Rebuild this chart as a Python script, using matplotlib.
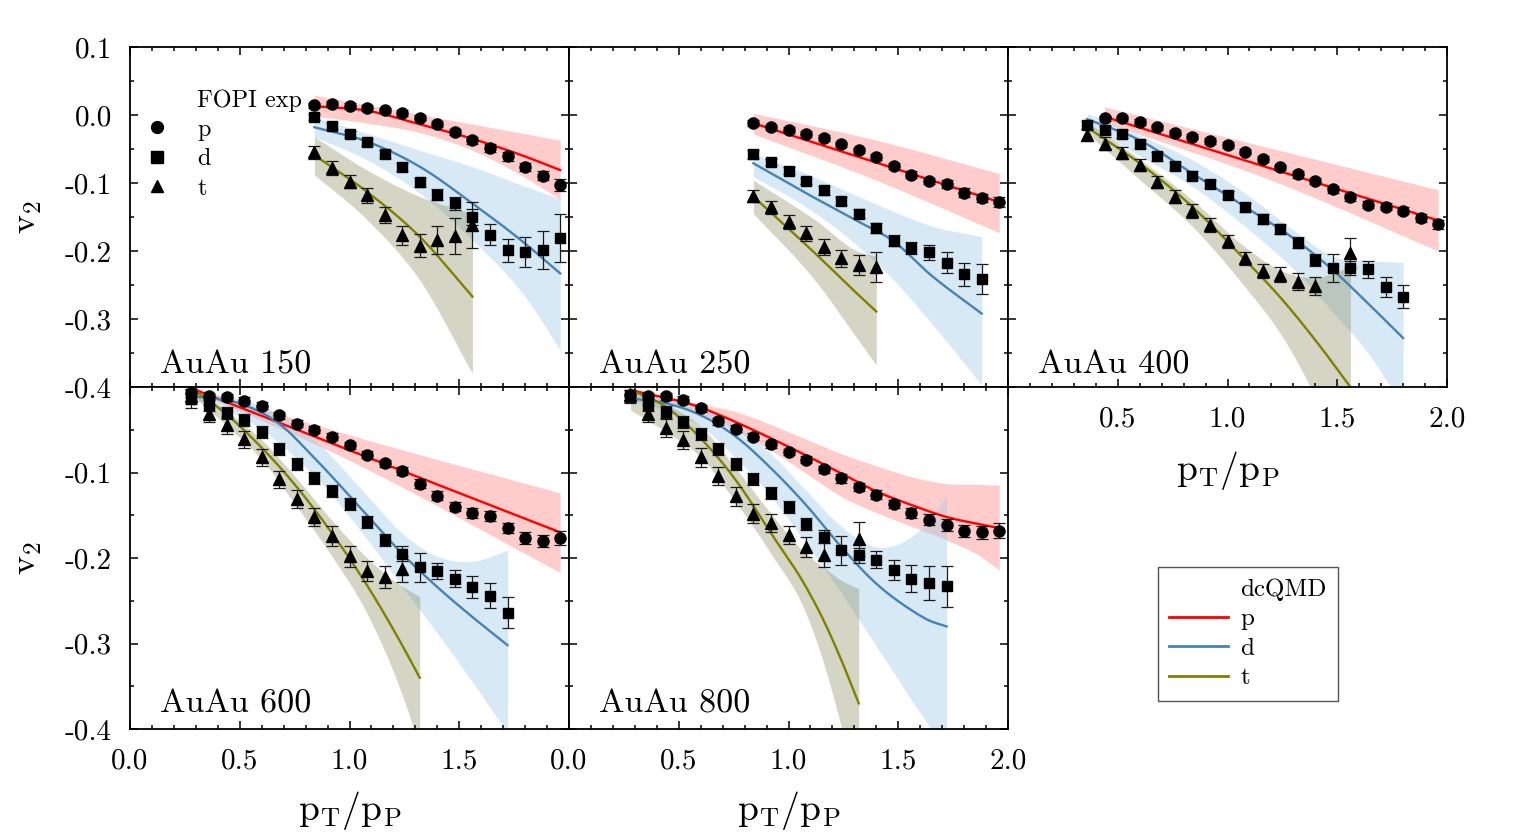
import numpy as np
import matplotlib.pyplot as plt
from matplotlib.lines import Line2D
from matplotlib.ticker import MultipleLocator

plt.rcParams['font.family'] = 'cmr10'
plt.rcParams['mathtext.fontset'] = 'cm'
plt.rcParams['axes.unicode_minus'] = False
plt.rcParams['axes.formatter.use_mathtext'] = True

# ---------------- FOPI data (pT/pP, v2, error) ----------------
x_a = [0.84, 0.92, 1.00, 1.08, 1.16, 1.24, 1.32, 1.40, 1.48, 1.56, 1.64, 1.72, 1.80, 1.88, 1.96]
x_b = [0.36, 0.44, 0.52, 0.60, 0.68, 0.76, 0.84, 0.92, 1.00, 1.08, 1.16, 1.24, 1.32, 1.40,
       1.48, 1.56, 1.64, 1.72, 1.80, 1.88, 1.96]
x_c = [0.28, 0.36, 0.44, 0.52, 0.60, 0.68, 0.76, 0.84, 0.92, 1.00, 1.08, 1.16, 1.24, 1.32,
       1.40, 1.48, 1.56, 1.64, 1.72, 1.80, 1.88, 1.96]

# AuAu 150
p150 = [0.014, 0.016, 0.013, 0.010, 0.007, 0.003, -0.004, -0.013, -0.025, -0.037, -0.049, -0.061, -0.076, -0.089, -0.103]
p150e = [0.004, 0.004, 0.004, 0.004, 0.004, 0.004, 0.004, 0.004, 0.005, 0.005, 0.006, 0.006, 0.006, 0.007, 0.009]
d150 = [-0.003, -0.016, -0.028, -0.040, -0.057, -0.077, -0.099, -0.117, -0.130, -0.150, -0.176, -0.199, -0.202, -0.198, -0.181]
d150e = [0.004, 0.004, 0.005, 0.005, 0.006, 0.006, 0.007, 0.008, 0.009, 0.012, 0.015, 0.017, 0.022, 0.028, 0.035]
t150 = [-0.055, -0.078, -0.098, -0.118, -0.147, -0.177, -0.192, -0.184, -0.178, -0.162]
t150e = [0.009, 0.010, 0.010, 0.011, 0.012, 0.014, 0.017, 0.021, 0.026, 0.034]

# AuAu 250
p250 = [-0.012, -0.018, -0.022, -0.028, -0.034, -0.043, -0.052, -0.062, -0.075, -0.088, -0.097, -0.102, -0.114, -0.122, -0.128]
p250e = [0.004, 0.004, 0.004, 0.004, 0.004, 0.004, 0.004, 0.004, 0.005, 0.005, 0.005, 0.006, 0.006, 0.006, 0.007]
d250 = [-0.058, -0.069, -0.082, -0.097, -0.111, -0.126, -0.145, -0.166, -0.185, -0.196, -0.202, -0.217, -0.234, -0.241]
d250e = [0.006, 0.005, 0.005, 0.005, 0.006, 0.006, 0.007, 0.007, 0.008, 0.009, 0.011, 0.015, 0.017, 0.022]
t250 = [-0.119, -0.136, -0.157, -0.174, -0.194, -0.211, -0.221, -0.224]
t250e = [0.009, 0.010, 0.010, 0.011, 0.012, 0.013, 0.015, 0.022]

# AuAu 400
p400 = [-0.005, -0.005, -0.010, -0.018, -0.026, -0.032, -0.038, -0.044, -0.054, -0.065, -0.077, -0.087, -0.097,
        -0.109, -0.121, -0.132, -0.135, -0.141, -0.151, -0.161]
p400e = [0.004, 0.004, 0.004, 0.004, 0.004, 0.004, 0.004, 0.004, 0.004, 0.004, 0.004, 0.005, 0.005, 0.005,
         0.005, 0.005, 0.005, 0.005, 0.006, 0.006]
d400 = [-0.015, -0.022, -0.028, -0.043, -0.061, -0.075, -0.089, -0.102, -0.118, -0.136, -0.153, -0.168, -0.188,
        -0.213, -0.225, -0.225, -0.227, -0.253, -0.267]
d400e = [0.006, 0.006, 0.006, 0.006, 0.006, 0.006, 0.006, 0.006, 0.006, 0.006, 0.007, 0.007, 0.008, 0.009,
         0.020, 0.011, 0.012, 0.015, 0.017]
x_t400 = [0.36, 0.44, 0.52, 0.60, 0.68, 0.76, 0.84, 0.92, 1.00, 1.08, 1.16, 1.24, 1.32, 1.40, 1.56]
t400 = [-0.029, -0.042, -0.056, -0.074, -0.098, -0.120, -0.141, -0.162, -0.186, -0.211, -0.229, -0.235, -0.245,
        -0.251, -0.203]
t400e = [0.008, 0.009, 0.009, 0.009, 0.009, 0.009, 0.010, 0.010, 0.010, 0.010, 0.010, 0.011, 0.012, 0.013, 0.022]

# AuAu 600
p600 = [-0.007, -0.011, -0.012, -0.016, -0.022, -0.033, -0.043, -0.050, -0.058, -0.068, -0.079, -0.089, -0.098,
        -0.113, -0.127, -0.140, -0.147, -0.151, -0.165, -0.177, -0.180, -0.177]
p600e = [0.005, 0.004, 0.004, 0.004, 0.004, 0.004, 0.004, 0.004, 0.004, 0.004, 0.004, 0.004, 0.005, 0.005,
         0.005, 0.005, 0.006, 0.006, 0.006, 0.007, 0.007, 0.008]
d600 = [-0.014, -0.021, -0.030, -0.039, -0.053, -0.072, -0.090, -0.106, -0.122, -0.137, -0.158, -0.179, -0.195,
        -0.211, -0.215, -0.224, -0.234, -0.244, -0.264]
d600e = [0.011, 0.007, 0.007, 0.007, 0.007, 0.007, 0.007, 0.007, 0.007, 0.007, 0.007, 0.007, 0.009, 0.017,
         0.009, 0.010, 0.013, 0.015, 0.018]
t600 = [-0.011, -0.031, -0.045, -0.061, -0.082, -0.108, -0.131, -0.152, -0.174, -0.198, -0.215, -0.222, -0.213]
t600e = [0.009, 0.010, 0.010, 0.010, 0.010, 0.010, 0.011, 0.011, 0.012, 0.012, 0.012, 0.013, 0.015]

# AuAu 800
p800 = [-0.009, -0.011, -0.011, -0.015, -0.025, -0.040, -0.049, -0.058, -0.067, -0.076, -0.085, -0.096, -0.107,
        -0.117, -0.126, -0.137, -0.147, -0.155, -0.161, -0.168, -0.170, -0.168]
p800e = [0.006, 0.004, 0.004, 0.004, 0.004, 0.004, 0.004, 0.004, 0.004, 0.004, 0.004, 0.004, 0.005, 0.005,
         0.005, 0.005, 0.006, 0.006, 0.007, 0.007, 0.008, 0.009]
d800 = [-0.011, -0.021, -0.029, -0.041, -0.055, -0.072, -0.090, -0.108, -0.124, -0.140, -0.160, -0.175, -0.191,
        -0.197, -0.202, -0.214, -0.224, -0.229, -0.233]
d800e = [0.008, 0.007, 0.007, 0.007, 0.007, 0.007, 0.007, 0.007, 0.007, 0.007, 0.007, 0.008, 0.017, 0.009,
         0.010, 0.012, 0.016, 0.020, 0.024]
x_t800 = [0.28, 0.36, 0.44, 0.52, 0.60, 0.68, 0.76, 0.84, 0.92, 1.00, 1.08, 1.16, 1.32]
t800 = [-0.009, -0.031, -0.048, -0.062, -0.082, -0.104, -0.128, -0.148, -0.159, -0.173, -0.187, -0.197, -0.178]
t800e = [0.009, 0.010, 0.010, 0.011, 0.011, 0.011, 0.011, 0.011, 0.011, 0.011, 0.012, 0.014, 0.020]

# ---------------- dcQMD curves (x, line, band upper, band lower) ----------------
m150p_x = [0.84, 1.08, 1.32, 1.56, 1.80, 1.96]
m150p = [0.013, 0.0064, -0.0136, -0.035, -0.061, -0.081]
m150p_hi = [0.029, 0.0149, 0.0007, -0.0134, -0.0276, -0.037]
m150p_lo = [-0.0015, -0.012, -0.026, -0.052, -0.092, -0.124]
m150d_x = [0.84, 1.08, 1.32, 1.56, 1.80, 1.96]
m150d = [-0.018, -0.039, -0.076, -0.130, -0.189, -0.233]
m150d_hi = [-0.003, -0.027, -0.052, -0.076, -0.105, -0.123]
m150d_lo = [-0.032, -0.066, -0.115, -0.184, -0.267, -0.346]
m150t_x = [0.84, 1.08, 1.32, 1.56]
m150t = [-0.059, -0.113, -0.179, -0.267]
m150t_hi = [-0.032, -0.081, -0.120, -0.145]
m150t_lo = [-0.088, -0.154, -0.243, -0.380]

m250p_x = [0.84, 1.40, 1.96]
m250p = [-0.012, -0.070, -0.128]
m250p_hi = [0.0025, -0.037, -0.086]
m250p_lo = [-0.028, -0.096, -0.173]
m250d_x = [0.84, 1.08, 1.32, 1.48, 1.64, 1.88]
m250d = [-0.071, -0.115, -0.157, -0.186, -0.233, -0.292]
m250d_hi = [-0.056, -0.086, -0.120, -0.142, -0.162, -0.179]
m250d_lo = [-0.091, -0.135, -0.194, -0.243, -0.302, -0.397]
m250t_x = [0.84, 1.12, 1.32, 1.40]
m250t = [-0.120, -0.203, -0.265, -0.289]
m250t_hi = [-0.096, -0.154, -0.201, -0.208]
m250t_lo = [-0.145, -0.243, -0.332, -0.368]

m400p_x = [0.44, 1.20, 1.96]
m400p = [-0.0025, -0.079, -0.155]
m400p_hi = [0.012, -0.049, -0.110]
m400p_lo = [-0.011, -0.096, -0.200]
m400d_x = [0.36, 0.60, 0.84, 1.08, 1.32, 1.48, 1.64, 1.80]
m400d = [-0.006, -0.037, -0.086, -0.135, -0.186, -0.228, -0.277, -0.328]
m400d_hi = [0.0025, -0.030, -0.066, -0.115, -0.174, -0.208, -0.214, -0.217]
m400d_lo = [-0.015, -0.060, -0.105, -0.164, -0.233, -0.290, -0.350, -0.429]
m400t_x = [0.36, 0.60, 0.84, 1.08, 1.24, 1.40, 1.56]
m400t = [-0.018, -0.071, -0.135, -0.213, -0.268, -0.331, -0.400]
m400t_hi = [-0.010, -0.065, -0.125, -0.194, -0.228, -0.239, -0.223]
m400t_lo = [-0.027, -0.095, -0.164, -0.253, -0.321, -0.414, -0.527]

m600p_x = [0.28, 0.92, 1.96]
m600p = [-0.0016, -0.066, -0.170]
m600p_hi = [0.0004, -0.050, -0.124]
m600p_lo = [-0.0035, -0.076, -0.217]
m600d_x = [0.28, 0.52, 0.68, 0.84, 1.08, 1.24, 1.40, 1.56, 1.72]
m600d = [-0.0105, -0.021, -0.043, -0.083, -0.150, -0.195, -0.234, -0.269, -0.302]
m600d_hi = [-0.0074, -0.0152, -0.032, -0.062, -0.127, -0.171, -0.198, -0.204, -0.191]
m600d_lo = [-0.0133, -0.0366, -0.066, -0.104, -0.178, -0.2335, -0.288, -0.345, -0.405]
m600t_x = [0.28, 0.44, 0.60, 0.76, 0.92, 1.08, 1.24, 1.32]
m600t = [-0.0016, -0.032, -0.071, -0.117, -0.171, -0.232, -0.302, -0.340]
m600t_hi = [0.0004, -0.028, -0.062, -0.107, -0.156, -0.200, -0.233, -0.245]
m600t_lo = [-0.0094, -0.045, -0.085, -0.140, -0.198, -0.265, -0.360, -0.421]

m800p_x = [0.28, 0.60, 0.76, 0.92, 1.08, 1.24, 1.40, 1.56, 1.72, 1.88, 1.96]
m800p = [-0.0035, -0.024, -0.041, -0.060, -0.080, -0.101, -0.122, -0.138, -0.152, -0.161, -0.165]
m800p_hi = [-0.0016, -0.020, -0.029, -0.044, -0.061, -0.078, -0.092, -0.105, -0.113, -0.114, -0.115]
m800p_lo = [-0.0055, -0.031, -0.051, -0.074, -0.101, -0.128, -0.147, -0.163, -0.179, -0.199, -0.214]
m800d_x = [0.28, 0.44, 0.60, 0.76, 0.92, 1.08, 1.24, 1.40, 1.56, 1.64, 1.72]
m800d = [-0.0133, -0.019, -0.033, -0.058, -0.095, -0.138, -0.187, -0.230, -0.261, -0.273, -0.280]
m800d_hi = [-0.0094, -0.013, -0.021, -0.045, -0.078, -0.121, -0.163, -0.187, -0.175, -0.156, -0.126]
m800d_lo = [-0.0152, -0.028, -0.046, -0.083, -0.128, -0.183, -0.241, -0.303, -0.366, -0.397, -0.440]
m800t_x = [0.28, 0.44, 0.60, 0.76, 0.92, 1.08, 1.16, 1.24, 1.32]
m800t = [-0.0035, -0.023, -0.060, -0.109, -0.171, -0.234, -0.273, -0.319, -0.370]
m800t_hi = [-0.0016, -0.020, -0.046, -0.095, -0.148, -0.195, -0.211, -0.226, -0.236]
m800t_lo = [-0.027, -0.052, -0.082, -0.135, -0.195, -0.265, -0.323, -0.397, -0.479]

red, blue, olive = '#ff0000', '#4682b4', '#808000'

fig = plt.figure(figsize=(15.36, 8.39), dpi=100)
W, H = 1536.0, 839.0


def smooth(x, y, n=200):
    # cubic Hermite through the read-off points, just for a smooth look
    x = np.asarray(x, float)
    y = np.asarray(y, float)
    if len(x) < 3:
        return x, y
    m = np.gradient(y, x)
    xs = np.linspace(x[0], x[-1], n)
    i = np.clip(np.searchsorted(x, xs) - 1, 0, len(x) - 2)
    h = x[i + 1] - x[i]
    t = (xs - x[i]) / h
    ys = ((2 * t**3 - 3 * t**2 + 1) * y[i] + (t**3 - 2 * t**2 + t) * h * m[i]
          + (-2 * t**3 + 3 * t**2) * y[i + 1] + (t**3 - t**2) * h * m[i + 1])
    return xs, ys


def panel(left, top, bottom, ytop):
    ax = fig.add_axes([left / W, 1 - bottom / H, 439 / W, (bottom - top) / H])
    ax.set_xlim(0, 2)
    ax.set_ylim(-0.4, ytop)
    ax.xaxis.set_minor_locator(MultipleLocator(0.1))
    ax.yaxis.set_minor_locator(MultipleLocator(0.05))
    ax.tick_params(which='both', direction='in', top=True, right=True, labelsize=21, width=1.1)
    ax.tick_params(which='major', length=6)
    ax.tick_params(which='minor', length=3)
    ax.tick_params(axis='y', pad=13)
    ax.tick_params(axis='x', pad=14)
    for s in ax.spines.values():
        s.set_linewidth(1.3)
    return ax


def models(ax, curves):
    for (mx, my, hi, lo), fc, a in zip(curves, ['#ff0000', '#9ecae9', '#808050'], [0.2, 0.4, 0.33]):
        xs, his = smooth(mx, hi)
        xs, los = smooth(mx, lo)
        ax.fill_between(xs, los, his, color=fc, alpha=a, lw=0, zorder=1)
    for (mx, my, hi, lo), c in zip(curves, [red, blue, olive]):
        xs, ys = smooth(mx, my)
        ax.plot(xs, ys, color=c, lw=1.7, zorder=2)


def points(ax, sets):
    for (x, y, e), m, ms in zip(sets, ['o', 's', '^'], [8, 7.5, 8.5]):
        ax.errorbar(x, y, yerr=e, fmt=m, color='black', ms=ms, ecolor='#1a1a1a',
                    elinewidth=0.9, capsize=4, capthick=0.9, zorder=4)


def label(ax, s, yb):
    ax.text(0.068, yb, s, transform=ax.transAxes, fontsize=24.5, va='baseline', ha='left', zorder=6)


# AuAu 150
ax1 = panel(130, 47, 387, 0.1)
models(ax1, [(m150p_x, m150p, m150p_hi, m150p_lo), (m150d_x, m150d, m150d_hi, m150d_lo),
             (m150t_x, m150t, m150t_hi, m150t_lo)])
points(ax1, [(x_a, p150, p150e), (x_a, d150, d150e), (x_a[:10], t150, t150e)])
label(ax1, 'AuAu 150', 0.041)
ax1.set_yticks([0.1, 0.0, -0.1, -0.2, -0.3, -0.4])
ax1.set_yticklabels(['0.1', '0.0', '-0.1', '-0.2', '-0.3', '-0.4'])
ax1.tick_params(labelbottom=False)

# AuAu 250
ax2 = panel(569, 47, 387, 0.1)
models(ax2, [(m250p_x, m250p, m250p_hi, m250p_lo), (m250d_x, m250d, m250d_hi, m250d_lo),
             (m250t_x, m250t, m250t_hi, m250t_lo)])
points(ax2, [(x_a, p250, p250e), (x_a[:14], d250, d250e), (x_a[:8], t250, t250e)])
label(ax2, 'AuAu 250', 0.041)
ax2.tick_params(labelbottom=False, labelleft=False)

# AuAu 400
ax3 = panel(1008, 47, 387, 0.1)
models(ax3, [(m400p_x, m400p, m400p_hi, m400p_lo), (m400d_x, m400d, m400d_hi, m400d_lo),
             (m400t_x, m400t, m400t_hi, m400t_lo)])
points(ax3, [(x_b[1:], p400, p400e), (x_b[:19], d400, d400e), (x_t400, t400, t400e)])
label(ax3, 'AuAu 400', 0.041)
ax3.tick_params(labelleft=False)
ax3.set_xticks([0.0, 0.5, 1.0, 1.5, 2.0])
ax3.set_xticklabels(['', '0.5', '1.0', '1.5', '2.0'])

# AuAu 600
ax4 = panel(130, 387, 729, 0.0)
models(ax4, [(m600p_x, m600p, m600p_hi, m600p_lo), (m600d_x, m600d, m600d_hi, m600d_lo),
             (m600t_x, m600t, m600t_hi, m600t_lo)])
points(ax4, [(x_c, p600, p600e), (x_c[:19], d600, d600e), (x_c[:13], t600, t600e)])
label(ax4, 'AuAu 600', 0.047)
ax4.set_yticks([0.0, -0.1, -0.2, -0.3, -0.4])
ax4.set_yticklabels(['', '-0.1', '-0.2', '-0.3', '-0.4'])
ax4.set_xticks([0.0, 0.5, 1.0, 1.5, 2.0])
ax4.set_xticklabels(['0.0', '0.5', '1.0', '1.5', ''])

# AuAu 800
ax5 = panel(569, 387, 729, 0.0)
models(ax5, [(m800p_x, m800p, m800p_hi, m800p_lo), (m800d_x, m800d, m800d_hi, m800d_lo),
             (m800t_x, m800t, m800t_hi, m800t_lo)])
points(ax5, [(x_c, p800, p800e), (x_c[:19], d800, d800e), (x_t800, t800, t800e)])
label(ax5, 'AuAu 800', 0.047)
ax5.tick_params(labelleft=False)
ax5.set_xticks([0.0, 0.5, 1.0, 1.5, 2.0])
ax5.set_xticklabels(['0.0', '0.5', '1.0', '1.5', '2.0'])

# axis titles
fig.text(28 / W, 1 - 217 / H, r'$\mathrm{v}_2$', rotation=90, fontsize=26, ha='center', va='center')
fig.text(28 / W, 1 - 558 / H, r'$\mathrm{v}_2$', rotation=90, fontsize=26, ha='center', va='center')
xl = r'$\mathrm{p}_\mathrm{T}/\mathrm{p}_\mathrm{P}$'
fig.text(349.5 / W, 1 - 810 / H, xl, fontsize=27, ha='center', va='center')
fig.text(788.5 / W, 1 - 810 / H, xl, fontsize=27, ha='center', va='center')
fig.text(1227.5 / W, 1 - 471 / H, xl, fontsize=27, ha='center', va='center')

# legends
h_exp = [Line2D([], [], ls='none', marker='None', label='FOPI exp'),
         Line2D([], [], ls='none', marker='o', color='k', ms=8.5, label='p'),
         Line2D([], [], ls='none', marker='s', color='k', ms=8, label='d'),
         Line2D([], [], ls='none', marker='^', color='k', ms=9, label='t')]
ax1.legend(handles=h_exp, loc='upper left', bbox_to_anchor=((145 - 130) / 439, (387 - 89) / 340),
           frameon=False, fontsize=17.5, handlelength=1.0, handletextpad=1.15, labelspacing=0.3,
           borderpad=0, borderaxespad=0)

h_mod = [Line2D([], [], ls='none', marker='None', label='dcQMD'),
         Line2D([], [], color=red, lw=2, label='p'),
         Line2D([], [], color=blue, lw=2, label='d'),
         Line2D([], [], color=olive, lw=2, label='t')]
leg = fig.legend(handles=h_mod, loc='upper left', bbox_to_anchor=(1158 / W, 1 - 567 / H),
                 fontsize=18, handlelength=2.35, handletextpad=0.5, labelspacing=0.28,
                 borderpad=0.45, borderaxespad=0, fancybox=False, framealpha=1)
leg.get_frame().set_edgecolor('#555555')
leg.get_frame().set_linewidth(1.0)

fig.savefig('out.png', dpi=100)
